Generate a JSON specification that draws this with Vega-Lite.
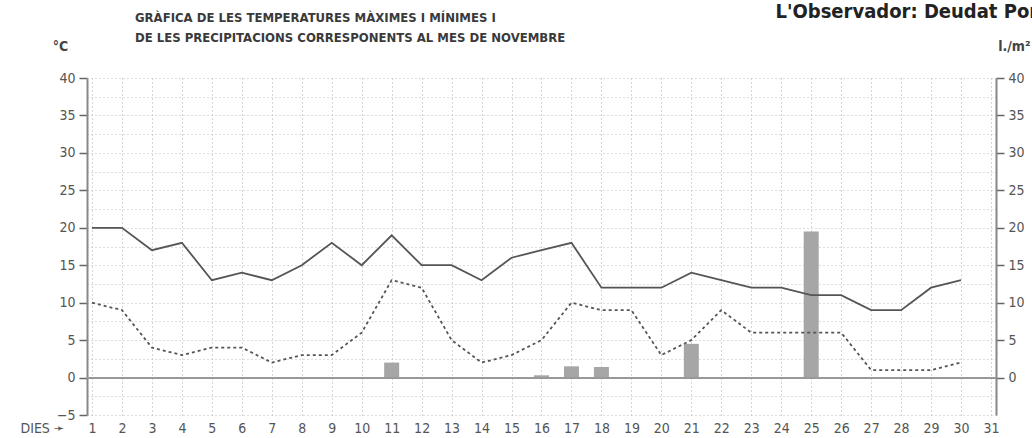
{
  "$schema": "https://vega.github.io/schema/vega-lite/v6.json",
  "width": 909,
  "height": 337,
  "autosize": {"type": "none"},
  "padding": {"left": 87, "top": 78, "right": 36, "bottom": 23},
  "background": "white",
  "config": {
    "view": {"stroke": null},
    "font": "Liberation Sans Narrow, DejaVu Sans Condensed, sans-serif",
    "axis": {
      "labelFont": "Liberation Sans Narrow, DejaVu Sans Condensed, sans-serif",
      "titleFont": "Liberation Sans Narrow, DejaVu Sans Condensed, sans-serif",
      "labelColor": "#555",
      "titleColor": "#444",
      "labelFontSize": 14
    }
  },
  "title": {
    "text": ["GRÀFICA DE LES TEMPERATURES MÀXIMES I MÍNIMES I", "DE LES PRECIPITACIONS CORRESPONENTS AL MES DE NOVEMBRE"],
    "anchor": "start",
    "frame": "group",
    "dx": 48,
    "offset": -44,
    "fontSize": 13,
    "fontWeight": "bold",
    "lineHeight": 20,
    "color": "#3a3a3a",
    "font": "Liberation Sans Narrow, DejaVu Sans Condensed, sans-serif"
  },
  "data": {
    "values": [
      {"day": 1, "tmax": 20, "tmin": 10, "precip": null},
      {"day": 2, "tmax": 20, "tmin": 9, "precip": null},
      {"day": 3, "tmax": 17, "tmin": 4, "precip": null},
      {"day": 4, "tmax": 18, "tmin": 3, "precip": null},
      {"day": 5, "tmax": 13, "tmin": 4, "precip": null},
      {"day": 6, "tmax": 14, "tmin": 4, "precip": null},
      {"day": 7, "tmax": 13, "tmin": 2, "precip": null},
      {"day": 8, "tmax": 15, "tmin": 3, "precip": null},
      {"day": 9, "tmax": 18, "tmin": 3, "precip": null},
      {"day": 10, "tmax": 15, "tmin": 6, "precip": null},
      {"day": 11, "tmax": 19, "tmin": 13, "precip": 2},
      {"day": 12, "tmax": 15, "tmin": 12, "precip": null},
      {"day": 13, "tmax": 15, "tmin": 5, "precip": null},
      {"day": 14, "tmax": 13, "tmin": 2, "precip": null},
      {"day": 15, "tmax": 16, "tmin": 3, "precip": null},
      {"day": 16, "tmax": 17, "tmin": 5, "precip": 0.3},
      {"day": 17, "tmax": 18, "tmin": 10, "precip": 1.5},
      {"day": 18, "tmax": 12, "tmin": 9, "precip": 1.4},
      {"day": 19, "tmax": 12, "tmin": 9, "precip": null},
      {"day": 20, "tmax": 12, "tmin": 3, "precip": null},
      {"day": 21, "tmax": 14, "tmin": 5, "precip": 4.5},
      {"day": 22, "tmax": 13, "tmin": 9, "precip": null},
      {"day": 23, "tmax": 12, "tmin": 6, "precip": null},
      {"day": 24, "tmax": 12, "tmin": 6, "precip": null},
      {"day": 25, "tmax": 11, "tmin": 6, "precip": 19.5},
      {"day": 26, "tmax": 11, "tmin": 6, "precip": null},
      {"day": 27, "tmax": 9, "tmin": 1, "precip": null},
      {"day": 28, "tmax": 9, "tmin": 1, "precip": null},
      {"day": 29, "tmax": 12, "tmin": 1, "precip": null},
      {"day": 30, "tmax": 13, "tmin": 2, "precip": null}
    ]
  },
  "resolve": {"axis": {"x": "independent", "y": "independent"}},
  "layer": [
    {
      "transform": [{"filter": "datum.precip > 0"}],
      "mark": {"type": "bar", "width": 15, "color": "#a6a6a6"},
      "encoding": {
        "x": {
          "field": "day", "type": "quantitative",
          "scale": {"domain": [1, 31], "nice": false, "zero": false},
          "axis": {
            "orient": "top", "labels": false, "ticks": false, "domain": false, "grid": false,
            "title": "L'Observador: Deudat Pons",
            "titleX": 688, "titleY": -61, "titleAlign": "left", "titleBaseline": "alphabetic",
            "titleFontSize": 20, "titleFontWeight": "bold", "titleColor": "#222", "titleAngle": 0
          }
        },
        "y": {
          "field": "precip", "type": "quantitative",
          "scale": {"domain": [-5, 40], "nice": false, "zero": false},
          "axis": {
            "orient": "right",
            "values": [0, 5, 10, 15, 20, 25, 30, 35, 40],
            "grid": false,
            "tickSize": 8, "tickColor": "#666", "tickWidth": 1.5,
            "domainColor": "#888", "domainWidth": 2,
            "labelPadding": 4,
            "title": "l./m²", "titleAngle": 0, "titleX": 34, "titleY": -32,
            "titleAlign": "right", "titleBaseline": "middle",
            "titleFontSize": 14, "titleFontWeight": "bold"
          }
        }
      }
    },
    {
      "mark": {"type": "rule", "color": "#999", "strokeWidth": 1.2},
      "encoding": {"y": {"datum": 0, "type": "quantitative", "axis": null}}
    },
    {
      "mark": {"type": "line", "color": "#555", "strokeWidth": 1.8},
      "encoding": {
        "x": {
          "field": "day", "type": "quantitative",
          "axis": {
            "orient": "bottom",
            "values": [1,2,3,4,5,6,7,8,9,10,11,12,13,14,15,16,17,18,19,20,21,22,23,24,25,26,27,28,29,30,31],
            "grid": true, "gridDash": [1, 3], "gridColor": "#aaa", "gridWidth": 1,
            "tickSize": 0, "domain": false, "labelPadding": 6,
            "title": "DIES ➛", "titleX": -67, "titleY": 13, "titleAlign": "left", "titleBaseline": "middle",
            "titleFontSize": 14, "titleFontWeight": "normal", "titleColor": "#555", "titleAngle": 0
          }
        },
        "y": {
          "field": "tmax", "type": "quantitative",
          "axis": {
            "orient": "left",
            "values": [-5, -2.5, 0, 2.5, 5, 7.5, 10, 12.5, 15, 17.5, 20, 22.5, 25, 27.5, 30, 32.5, 35, 37.5, 40],
            "labelExpr": "datum.value % 5 == 0 ? datum.label : ''",
            "tickOpacity": {"condition": {"test": "datum.value % 5 == 0", "value": 1}, "value": 0},
            "grid": true, "gridDash": [1, 3], "gridColor": "#bbb", "gridWidth": 1,
            "tickSize": 8, "tickColor": "#666", "tickWidth": 1.5,
            "domainColor": "#888", "domainWidth": 2,
            "labelPadding": 4,
            "title": "°C", "titleAngle": 0, "titleX": -27, "titleY": -32,
            "titleAlign": "center", "titleBaseline": "middle",
            "titleFontSize": 14, "titleFontWeight": "bold"
          }
        }
      }
    },
    {
      "mark": {"type": "line", "color": "#555", "strokeWidth": 1.8, "strokeDash": [3, 3]},
      "encoding": {
        "x": {"field": "day", "type": "quantitative", "axis": null},
        "y": {"field": "tmin", "type": "quantitative", "axis": null}
      }
    }
  ]
}
